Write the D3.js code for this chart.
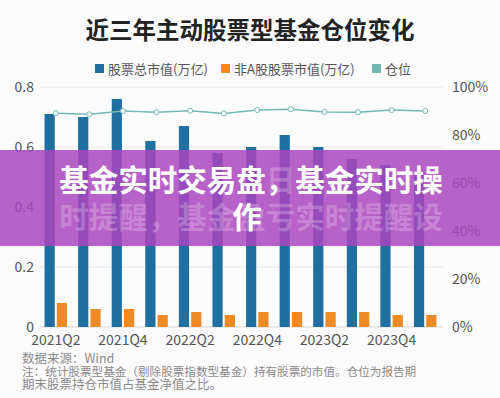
<!DOCTYPE html>
<html>
<head>
<meta charset="utf-8">
<script src="https://cdn.jsdelivr.net/npm/d3@7"></script>
<style>
  body { margin: 0; background: #fcfcfd; }
  svg { display: block; font-family: "Noto Sans CJK SC", "Noto Sans", sans-serif; }
</style>
</head>
<body>
<div id="chart"></div>
<script>
// data
const quarters = ["2021Q2", "2021Q3", "2021Q4", "2022Q1", "2022Q2", "2022Q3",
                  "2022Q4", "2023Q1", "2023Q2", "2023Q3", "2023Q4", "2024Q1"];
const totalValue = [0.71, 0.70, 0.76, 0.62, 0.67, 0.58, 0.60, 0.64, 0.60, 0.56, 0.54, 0.52];
const nonAValue = [0.08, 0.06, 0.06, 0.04, 0.05, 0.04, 0.05, 0.05, 0.05, 0.05, 0.04, 0.04];
const position = [0.891, 0.886, 0.900, 0.895, 0.901, 0.890, 0.904, 0.907, 0.896, 0.895, 0.904, 0.900];
const leftTicks = [0, 0.2, 0.4, 0.6, 0.8];
const rightTicks = [0, 0.2, 0.4, 0.6, 0.8, 1.0];
const seriesNames = ["股票总市值(万亿)", "非A股股票市值(万亿)", "仓位"];
const colors = ["#1f6fa0", "#f08a24", "#72b9b4"];

const width = 500, height = 398;
const plotLeft = 40, plotRight = 443, plotTop = 87, plotBottom = 327;

const svg = d3.select("#chart").append("svg")
    .attr("width", width)
    .attr("height", height);

let x = d3.scaleBand().domain(quarters).range([plotLeft - 1, plotRight - 1]);
let xSub = d3.scaleBand().domain([0, 1]).range([0, x.bandwidth()])
    .paddingInner(0.17).paddingOuter(0.45);
let yLeft = d3.scaleLinear().domain([0, 0.8]).range([plotBottom, plotTop]);
let yRight = d3.scaleLinear().domain([0, 1]).range([plotBottom, plotTop]);

// title
svg.append("text")
    .attr("x", 250).attr("y", 38.5)
    .attr("text-anchor", "middle")
    .attr("font-size", 23.5).attr("font-weight", 700)
    .attr("fill", "#222")
    .text("近三年主动股票型基金仓位变化");

// legend
const legendX = [95, 221, 372];
let lg = svg.selectAll(".legend").data(seriesNames).enter().append("g")
    .attr("class", "legend")
    .attr("transform", (d, i) => "translate(" + legendX[i] + ",64)");
lg.append("rect").attr("width", 9).attr("height", 9)
    .attr("fill", (d, i) => colors[i]);
lg.append("text").attr("x", 13).attr("y", 9.5)
    .attr("font-size", 13).attr("fill", "#555")
    .text(d => d);

// grid
svg.append("g").selectAll("line").data(leftTicks).enter().append("line")
    .attr("x1", plotLeft).attr("x2", plotRight)
    .attr("y1", d => yLeft(d)).attr("y2", d => yLeft(d))
    .attr("stroke", d => d === 0 ? "#d8d8d8" : "#e8e8e8").attr("stroke-width", 1);

// axes
let axL = svg.append("g").attr("transform", "translate(" + plotLeft + ",0)")
    .call(d3.axisLeft(yLeft).tickValues(leftTicks).tickSize(0).tickPadding(6)
        .tickFormat(d => d === 0 ? "0" : d3.format(".1f")(d)));
let axR = svg.append("g").attr("transform", "translate(" + plotRight + ",0)")
    .call(d3.axisRight(yRight).tickValues(rightTicks).tickSize(0).tickPadding(9)
        .tickFormat(d3.format(".0%")));
let axB = svg.append("g").attr("transform", "translate(0," + plotBottom + ")")
    .call(d3.axisBottom(x).tickSize(0).tickPadding(8)
        .tickFormat((d, i) => i % 2 === 0 ? d : ""));
[axL, axR, axB].forEach(a => {
    a.select(".domain").remove();
    a.selectAll("text").attr("font-size", 14).attr("fill", "#555")
        .attr("font-family", "\"Noto Sans CJK SC\", sans-serif");
});

// bars
let groups = svg.append("g").selectAll("g").data(quarters).enter().append("g")
    .attr("transform", d => "translate(" + x(d) + ",0)");
groups.append("rect")
    .attr("x", xSub(0)).attr("width", xSub.bandwidth())
    .attr("y", (d, i) => yLeft(totalValue[i]))
    .attr("height", (d, i) => plotBottom - yLeft(totalValue[i]))
    .attr("fill", colors[0]);
groups.append("rect")
    .attr("x", xSub(1)).attr("width", xSub.bandwidth())
    .attr("y", (d, i) => yLeft(nonAValue[i]))
    .attr("height", (d, i) => plotBottom - yLeft(nonAValue[i]))
    .attr("fill", colors[1]);

// position line
let line = d3.line()
    .x((d, i) => x(quarters[i]) + x.bandwidth() / 2)
    .y(d => yRight(d));
svg.append("path").datum(position)
    .attr("d", line).attr("fill", "none")
    .attr("stroke", colors[2]).attr("stroke-width", 1.5);
svg.append("g").selectAll("circle").data(position).enter().append("circle")
    .attr("cx", (d, i) => x(quarters[i]) + x.bandwidth() / 2)
    .attr("cy", d => yRight(d))
    .attr("r", 2.5).attr("fill", "#fff")
    .attr("stroke", colors[2]).attr("stroke-width", 1);

// footnotes
const notes = ["数据来源：Wind",
    "注：统计股票型基金（剔除股票指数型基金）持有股票的市值。仓位为报告期",
    "期末股票持仓市值占基金净值之比。"];
const noteSize = [12.5, 11.6, 12.5];
svg.append("g").selectAll("text").data(notes).enter().append("text")
    .attr("x", 22).attr("y", (d, i) => 362.5 + i * 13.3)
    .attr("font-size", (d, i) => noteSize[i]).attr("fill", "#8a8a8a")
    .text(d => d);

// purple banner on top
svg.append("rect")
    .attr("x", 0).attr("y", 150).attr("width", width).attr("height", 96)
    .attr("fill", "rgba(170,70,190,0.85)");
const ghost = ["基金实时交易盘日基金实时操", "时提醒，基金盈亏实时提醒设"];
svg.append("g").selectAll("text").data(ghost).enter().append("text")
    .attr("x", 251).attr("y", (d, i) => 191 + i * 37)
    .attr("text-anchor", "middle")
    .attr("font-size", 29.5).attr("font-weight", 700)
    .attr("fill", "rgba(255,255,255,0.22)")
    .text(d => d);
const banner = ["基金实时交易盘，基金实时操", "作"];
svg.append("g").selectAll("text").data(banner).enter().append("text")
    .attr("x", (d, i) => i === 0 ? 251 : 247).attr("y", (d, i) => 191 + i * 37)
    .attr("text-anchor", "middle")
    .attr("font-size", 29.5).attr("font-weight", 700)
    .attr("fill", "#fff")
    .text(d => d);
</script>
</body>
</html>
